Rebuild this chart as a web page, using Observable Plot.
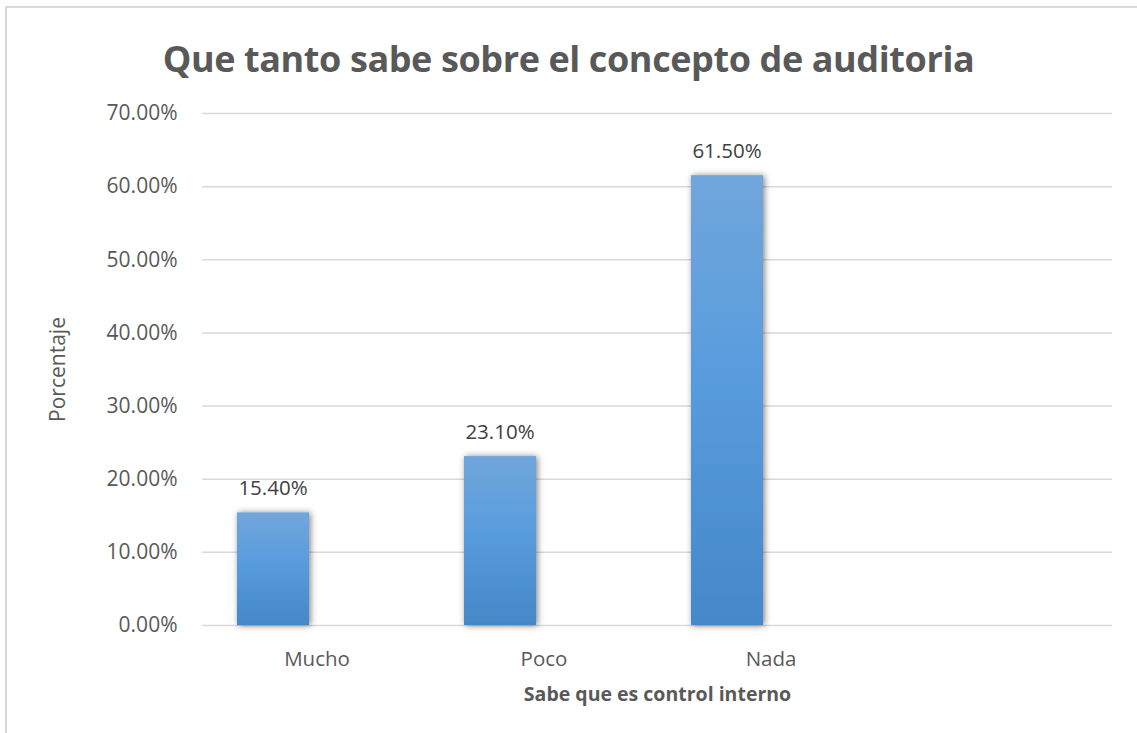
<!DOCTYPE html>
<html>
<head>
<meta charset="utf-8">
<script src="https://cdn.jsdelivr.net/npm/d3@7"></script>
<script src="https://cdn.jsdelivr.net/npm/@observablehq/plot@0.6"></script>
<style>
  html, body { margin: 0; padding: 0; background: #fff; }
  #wrap { position: relative; width: 1137px; height: 733px; overflow: hidden; font-family: "Open Sans", sans-serif; }
  #border { position: absolute; left: 5px; top: 6px; width: 1200px; height: 800px; border-left: 2px solid #D9D9D9; border-top: 2px solid #D9D9D9; }
  #title { position: absolute; left: 0; width: 1137px; top: 34px; text-align: center; font-size: 36px; font-weight: 700; color: #595959; letter-spacing: -0.4px; line-height: 50px; }
  #chart { position: absolute; left: 0; top: 0; }
</style>
</head>
<body>
<div id="wrap">
  <div id="border"></div>
  <div id="title">Que tanto sabe sobre el concepto de auditoria</div>
  <div id="chart"></div>
</div>
<script>
const categories = ["Mucho", "Poco", "Nada", ""];
const values = [0.154, 0.231, 0.615];
const yTicks = [0, 0.1, 0.2, 0.3, 0.4, 0.5, 0.6, 0.7];
const yLabel = "Porcentaje";
const xLabel = "Sabe que es control interno";

const data = values.map((v, i) => ({cat: categories[i], value: v}));
const pct = d3.format(".2%");

const svg = Plot.plot({
  width: 1137,
  height: 733,
  marginTop: 113,
  marginBottom: 108,
  marginLeft: 202,
  marginRight: 25,
  style: {fontFamily: "'Open Sans', sans-serif", background: "transparent"},
  x: {domain: categories, padding: 0, label: null},
  y: {domain: [0, 0.7], ticks: yTicks, label: null},
  marks: [
    Plot.gridY(yTicks, {stroke: "#D9D9D9", strokeOpacity: 1, strokeWidth: 1.5}),
    Plot.barY(data, {x: "cat", y: "value", insetLeft: 34, insetRight: 121, fill: "url(#barGrad)"}),
    Plot.text(data, {x: "cat", y: "value", text: d => pct(d.value), dx: -44, dy: -24, fontSize: 20.5, fill: "#404040"}),
    Plot.axisY(yTicks, {tickSize: 0, tickPadding: 25, tickFormat: d3.format(".2%"), fontSize: 21, color: "#595959", label: null}),
    Plot.axisX({tickSize: 0, tickPadding: 26, fontSize: 20.5, color: "#595959", label: null}),
    Plot.text([yLabel], {frameAnchor: "left", textAnchor: "middle", rotate: -90, dx: -144, fontSize: 21, fill: "#595959"}),
    Plot.text([xLabel], {frameAnchor: "bottom", dy: 75, fontSize: 19.5, fontWeight: "bold", fill: "#595959"})
  ]
});

const s = d3.select(svg);
const defs = s.insert("defs", ":first-child");
const g = defs.append("linearGradient").attr("id", "barGrad").attr("x1", 0).attr("y1", 0).attr("x2", 0).attr("y2", 1);
g.append("stop").attr("offset", "0%").attr("stop-color", "#71A6DB");
g.append("stop").attr("offset", "45%").attr("stop-color", "#589CDD");
g.append("stop").attr("offset", "100%").attr("stop-color", "#4588C8");
const f = defs.append("filter").attr("id", "barShadow").attr("x", "-30%").attr("y", "-10%").attr("width", "160%").attr("height", "120%");
f.append("feDropShadow").attr("dx", 1.5).attr("dy", 0.5).attr("stdDeviation", 3).attr("flood-color", "#000").attr("flood-opacity", 0.5);
s.selectAll('g[aria-label="bar"]').attr("filter", "url(#barShadow)");

document.getElementById("chart").appendChild(svg);
</script>
</body>
</html>
